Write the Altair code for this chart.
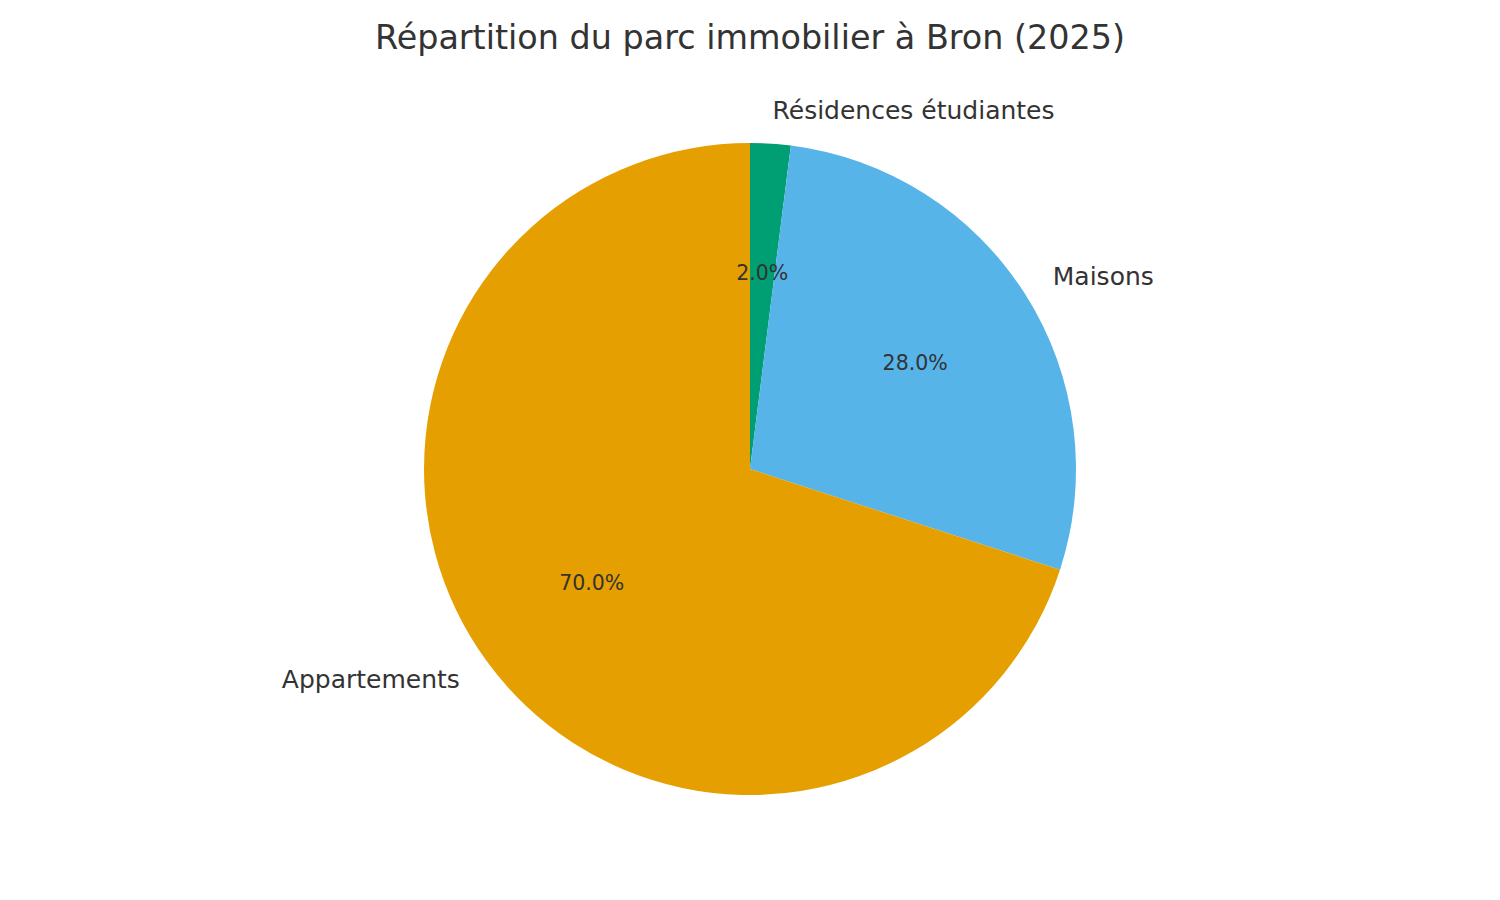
import math

import altair as alt
import pandas as pd

# Données (ordre dans le sens horaire depuis le haut)
categories = ["Résidences étudiantes", "Maisons", "Appartements"]
parts = [2.0, 28.0, 70.0]
colors = ["#009E73", "#56B4E9", "#E69F00"]
label_side = ["left", "left", "right"]

source = pd.DataFrame(
    {
        "Type": categories,
        "Part": parts,
        "Ordre": list(range(len(categories))),
        "Côté": label_side,
    }
)
source["Pct"] = source["Part"].map(lambda v: f"{v:.1f}%")

R = 326
CX, CY = 742, 391
FONT = "DejaVu Sans"
TXT = "#333333"

base = alt.Chart(source).encode(
    theta=alt.Theta("Part:Q", stack=True),
    order=alt.Order("Ordre:Q"),
    x=alt.value(CX),
    y=alt.value(CY),
)

pie = base.mark_arc(outerRadius=R).encode(
    color=alt.Color(
        "Type:N",
        scale=alt.Scale(domain=categories, range=colors),
        legend=None,
    )
)

pct = base.mark_text(
    radius=R * 0.6, font=FONT, fontSize=20.5, color=TXT, baseline="middle"
).encode(text="Pct:N")

# angle médian de chaque part (en radians), calculé avant le filtrage
lab_base = (
    alt.Chart(source)
    .transform_joinaggregate(Total="sum(Part)")
    .transform_window(Cumul="sum(Part)", sort=[alt.SortField("Ordre")])
    .transform_calculate(
        Milieu=f"(datum.Cumul - datum.Part / 2) / datum.Total * 2 * {math.pi}"
    )
    .encode(
        theta=alt.Theta("Milieu:Q", scale=None),
        x=alt.value(CX),
        y=alt.value(CY),
        text="Type:N",
    )
)

labels_left = lab_base.transform_filter(alt.datum["Côté"] == "left").mark_text(
    radius=R * 1.1, font=FONT, fontSize=25, color=TXT,
    align="left", baseline="middle",
)

labels_right = lab_base.transform_filter(alt.datum["Côté"] == "right").mark_text(
    radius=R * 1.1, font=FONT, fontSize=25, color=TXT,
    align="right", baseline="middle",
)

chart = (
    alt.layer(pie, pct, labels_left, labels_right)
    .properties(
        width=1484,
        height=806,
        padding={"top": 70, "left": 0, "right": 0, "bottom": 0},
        autosize=alt.AutoSizeParams(type="none"),
        title=alt.Title(
            "Répartition du parc immobilier à Bron (2025)",
            font=FONT,
            fontSize=33.4,
            fontWeight="normal",
            color=TXT,
            anchor="middle",
            offset=22,
        ),
    )
    .configure_view(stroke=None)
)

chart.save("out.html", embed_options={"renderer": "svg", "actions": False})
